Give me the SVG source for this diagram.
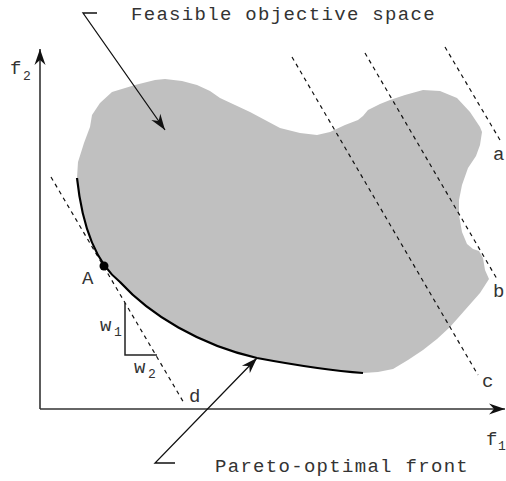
<svg xmlns="http://www.w3.org/2000/svg" width="506" height="481" viewBox="0 0 506 481">
<style>
.t{font-family:"Liberation Mono","DejaVu Sans Mono",monospace;font-size:19px;letter-spacing:1.3px;fill:#333}
.e{font-family:"Liberation Mono","DejaVu Sans Mono",monospace;font-size:19px;fill:#333}
.s{font-family:"Liberation Mono","DejaVu Sans Mono",monospace;font-size:13px;fill:#333}
.ax{stroke:#333;stroke-width:1.6;fill:none}
.ln{stroke:#111;stroke-width:1.3;fill:none}
.dash{stroke:#111;stroke-width:1.2;stroke-dasharray:4 4;fill:none}
</style>
<defs>
<marker id="ah" markerUnits="userSpaceOnUse" markerWidth="20" markerHeight="14" viewBox="-16 -7 18 14" refX="0" refY="0" orient="auto">
<path d="M0,0 L-16,-5.5 L-11,0 L-16,5.5 Z" fill="#111"/>
</marker>
</defs>
<g id="region">
<path d="M77,178 L78,162 L84,143 L90,127 L92,115 L100,103 L112,92 L135,85 L155,80 L165,79 L182,81 L197,85 L210,91 L220,98 L235,105 L250,112 L265,120 L280,128 L300,133 L317,135 L330,132 L345,125 L358,120 L363,116 L368,110 L380,104 L390,100 L405,95 L423,90 L440,91 L457,98 L470,112 L480,127 L482,132 L480,145 L476,156 L468,168 L462,185 L459,200 L459,215 L462,232 L467,244 L473,249 L479,251 L483,258 L485,270 L489,279 L480,293 L465,310 L450,327 L437,339 L423,350 L408,360 L393,369 L378,372 L363,373 C335,371 300,366 257,358 C200,345 150,315 120,282 C95,262 82,225 77,178 Z" fill="#c0c0c0"/>
</g>
<g id="axes">
<line class="ax" x1="40" y1="409" x2="40" y2="49" marker-end="url(#ah)"/>
<line class="ax" x1="40" y1="409" x2="505" y2="409" marker-end="url(#ah)"/>
<text class="t" x="10" y="74">f</text><text class="s" x="23" y="80">2</text>
<text class="t" x="486" y="445">f</text><text class="s" x="498" y="450">1</text>
</g>
<g id="lines">
<line class="dash" x1="51" y1="177" x2="184" y2="403"/>
<line class="dash" x1="292" y1="57" x2="478" y2="375"/>
<line class="dash" x1="365" y1="53" x2="497" y2="279"/>
<line class="dash" x1="445" y1="47" x2="500" y2="140"/>
<text class="e" x="493" y="160">a</text>
<text class="e" x="493" y="297">b</text>
<text class="e" x="482" y="387">c</text>
<text class="e" x="189" y="402">d</text>
</g>
<g id="front">
<path d="M77,178 C82,225 95,262 120,282 C150,315 200,345 257,358 C300,366 335,371 363,373" stroke="#000" stroke-width="2.2" fill="none"/>
</g>
<g id="pointA">
<circle cx="104" cy="266" r="4.5" fill="#000"/>
<text class="t" x="82" y="284">A</text>
</g>
<g id="slope">
<path d="M125,303 L125,355 L157,355" stroke="#222" stroke-width="1.5" fill="none"/>
<text class="t" x="100" y="331">w</text><text class="s" x="114" y="336">1</text>
<text class="t" x="134" y="373">w</text><text class="s" x="148" y="378">2</text>
</g>
<g id="connectors">
<polyline class="ln" points="97,13 83,13 165,130" marker-end="url(#ah)"/>
<polyline class="ln" points="175,463 155,463 257,358" marker-end="url(#ah)"/>
</g>
<g id="labels">
<text class="t" x="131" y="20">Feasible objective space</text>
<text class="t" x="215" y="472">Pareto-optimal front</text>
</g>
</svg>
